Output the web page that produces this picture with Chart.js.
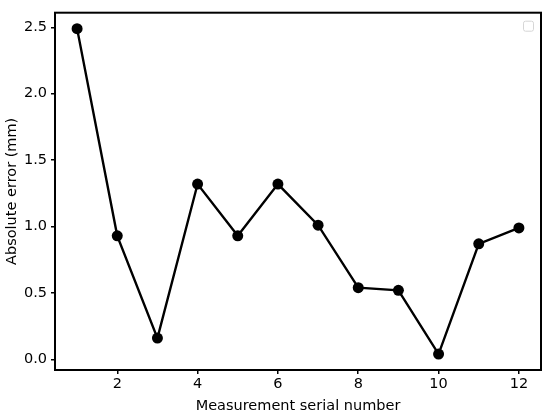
<!DOCTYPE html>
<html>
<head>
<meta charset="utf-8">
<script src="https://cdn.jsdelivr.net/npm/chart.js@4"></script>
<style>
  html, body { margin: 0; padding: 0; background: #fff; }
  #wrap { width: 550px; height: 416px; }
</style>
</head>
<body>
<div id="wrap"><canvas id="errChart" width="550" height="416"></canvas></div>
<script>
// measurement serial numbers and absolute error (mm)
const serials = [1, 2, 3, 4, 5, 6, 7, 8, 9, 10, 11, 12];
const absError = [2.49, 0.93, 0.16, 1.32, 0.93, 1.32, 1.01, 0.54, 0.52, 0.04, 0.87, 0.99];
const xTicks = [2, 4, 6, 8, 10, 12];
const yTicks = [0, 0.5, 1.0, 1.5, 2.0, 2.5];

const FONT = 'DejaVu Sans';

// full black frame + empty legend box (matplotlib look)
const framePlugin = {
  id: 'frame',
  afterDraw(chart) {
    const { ctx, chartArea: a } = chart;
    ctx.save();
    ctx.strokeStyle = '#000';
    ctx.lineWidth = 2;
    ctx.strokeRect(a.left, a.top, a.right - a.left, a.bottom - a.top);
    // empty legend
    ctx.strokeStyle = '#d6d6d6';
    ctx.lineWidth = 1;
    ctx.beginPath();
    ctx.roundRect(a.right - 17.5, a.top + 8.5, 10, 10, 2);
    ctx.stroke();
    ctx.restore();
  }
};

new Chart(document.getElementById('errChart'), {
  type: 'line',
  data: {
    labels: serials,
    datasets: [{
      data: serials.map((s, i) => ({ x: s, y: absError[i] })),
      borderColor: '#000',
      backgroundColor: '#000',
      borderWidth: 2.4,
      pointRadius: 5.5,
      pointHoverRadius: 5.5,
      pointBackgroundColor: '#000',
      pointBorderWidth: 0,
      tension: 0
    }]
  },
  options: {
    responsive: false,
    animation: false,
    devicePixelRatio: 1,
    layout: { padding: { left: 0, top: 8, right: 9, bottom: 0 } },
    plugins: { legend: { display: false }, tooltip: { enabled: false } },
    scales: {
      x: {
        type: 'linear',
        min: 0.45, max: 12.55,
        afterBuildTicks: s => { s.ticks = xTicks.map(v => ({ value: v })); },
        afterFit: s => { s.height = 46; },
        grid: { drawOnChartArea: false, drawTicks: true, tickLength: 4, color: '#000', lineWidth: 1.5 },
        border: { display: false },
        ticks: { color: '#000', font: { family: FONT, size: 14.5 }, padding: 2, maxRotation: 0,
          callback: v => String(v) },
        title: { display: true, text: 'Measurement serial number', color: '#000',
          font: { family: FONT, size: 14.5 }, padding: { top: 0, bottom: 1 } }
      },
      y: {
        min: -0.08, max: 2.61,
        afterBuildTicks: s => { s.ticks = yTicks.map(v => ({ value: v })); },
        afterFit: s => { s.width = 55; },
        grid: { drawOnChartArea: false, drawTicks: true, tickLength: 4, color: '#000', lineWidth: 1.5 },
        border: { display: false },
        ticks: { color: '#000', font: { family: FONT, size: 14.5 }, padding: 4,
          callback: v => v.toFixed(1) },
        title: { display: true, text: 'Absolute error (mm)', color: '#000',
          font: { family: FONT, size: 14.5 }, padding: { top: 4, bottom: 0 } }
      }
    }
  },
  plugins: [framePlugin]
});
</script>
</body>
</html>
